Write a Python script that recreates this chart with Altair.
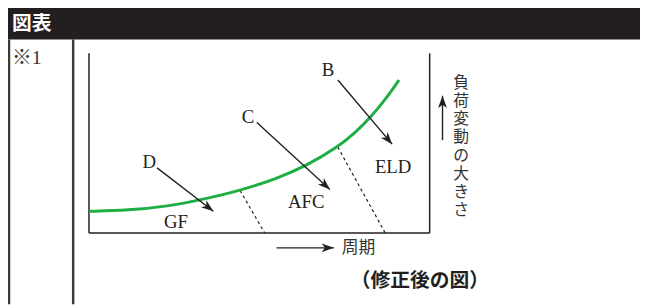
import altair as alt
import numpy as np
import pandas as pd

# ---- data (page pixel coordinates) ----
curve_x = [90, 130, 170, 205, 243, 280, 310, 342, 360, 375, 390, 404]
curve_y = [212, 211, 207, 200, 191, 179, 166, 147, 132, 117, 99, 79]

arrow_names = ["D", "C", "B", "up", "right"]
arrow_x0 = [159, 260, 342, 448, 280]
arrow_y0 = [168, 122, 79, 140, 249]
arrow_x1 = [216, 334, 397, 448, 338]
arrow_y1 = [212, 190, 144, 95, 249]

letter_text = ["D", "C", "B"]
letter_x = [151, 251, 332]
letter_y = [162, 117, 69]

region_text = ["GF", "AFC", "ELD"]
region_x = [178, 310, 398]
region_y = [223, 203, 167]

divider_x0 = [243, 342]
divider_y0 = [191, 147]
divider_x1 = [268, 390]
divider_y1 = [234, 234]

box_x0 = [90, 90, 435]
box_y0 = [52, 234, 52]
box_x1 = [90, 435, 435]
box_y1 = [234, 234, 234]

table_x = [9, 74]
table_y0 = [38, 38]
table_y1 = [306, 306]

header_x = [5, 648]
header_y = [4, 38]

vertical_label = "負荷変動の大きさ"
period_label = "周期"
caption = "（修正後の図）"
header_label = "図表"
note_label = "※1"

# ---- scales: page pixels, chart starts at the 8px page margin ----
W, H = 640, 298
xs = alt.Scale(domain=[8, 8 + W], nice=False, zero=False)
ys = alt.Scale(domain=[8, 8 + H], nice=False, zero=False, reverse=True)


def X(f):
    return alt.X(f"{f}:Q", scale=xs, axis=None)


def Y(f):
    return alt.Y(f"{f}:Q", scale=ys, axis=None)


INK = "#231f20"
SERIF = "Liberation Serif, 'Noto Sans CJK JP'"
SANS = "'Noto Sans CJK JP'"

# header bar
header_df = pd.DataFrame({"x0": [header_x[0]], "x1": [header_x[1]],
                          "y0": [header_y[0]], "y1": [header_y[1]]})
header = alt.Chart(header_df).mark_rect(color=INK).encode(
    x=X("x0"), x2="x1", y=Y("y0"), y2="y1")

header_txt = alt.Chart(pd.DataFrame({"x": [12], "y": [22], "t": [header_label]})).mark_text(
    align="left", baseline="middle", font=SANS, fontSize=20, fontWeight="bold", color="white"
).encode(x=X("x"), y=Y("y"), text="t:N")

# table lines
table_df = pd.DataFrame({"x": table_x, "y0": table_y0, "y1": table_y1})
table = alt.Chart(table_df).mark_rule(color="#3a3a3a", strokeWidth=2.5).encode(
    x=X("x"), y=Y("y0"), y2="y1")

note = alt.Chart(pd.DataFrame({"x": [12], "y": [57], "t": [note_label]})).mark_text(
    align="left", baseline="middle", font=SERIF, fontSize=20, color="#333333"
).encode(x=X("x"), y=Y("y"), text="t:N")

# plot box
box_df = pd.DataFrame({"x0": box_x0, "y0": box_y0, "x1": box_x1, "y1": box_y1})
box = alt.Chart(box_df).mark_rule(color=INK, strokeWidth=1.5).encode(
    x=X("x0"), y=Y("y0"), x2="x1", y2="y1")

# dashed dividers
div_df = pd.DataFrame({"x0": divider_x0, "y0": divider_y0, "x1": divider_x1, "y1": divider_y1})
dividers = alt.Chart(div_df).mark_rule(color=INK, strokeWidth=1.2, strokeDash=[3, 3]).encode(
    x=X("x0"), y=Y("y0"), x2="x1", y2="y1")

# green curve
curve_df = pd.DataFrame({"x": curve_x, "y": curve_y, "o": range(len(curve_x))})
curve = alt.Chart(curve_df).mark_line(color="#1fae43", strokeWidth=3, interpolate="basis").encode(
    x=X("x"), y=Y("y"), order="o:Q")

# arrows
arr_df = pd.DataFrame({"n": arrow_names, "x0": arrow_x0, "y0": arrow_y0,
                       "x1": arrow_x1, "y1": arrow_y1})
arr_df["ang"] = np.degrees(np.arctan2(arr_df["y1"] - arr_df["y0"],
                                      arr_df["x1"] - arr_df["x0"])) % 360
shafts = alt.Chart(arr_df).mark_rule(color=INK, strokeWidth=1.4).encode(
    x=X("x0"), y=Y("y0"), x2="x1", y2="y1")
heads = alt.Chart(arr_df).mark_point(
    shape="M0,0 L-1,-0.36 L-0.72,0 L-1,0.36 Z", filled=True, color=INK, opacity=1,
    size=620, strokeWidth=0
).encode(x=X("x1"), y=Y("y1"), angle=alt.Angle("ang:Q", scale=None))

# letters and region labels
let_df = pd.DataFrame({"x": letter_x + region_x, "y": letter_y + region_y,
                       "t": letter_text + region_text})
letters = alt.Chart(let_df).mark_text(
    align="center", baseline="middle", font="Liberation Serif", fontSize=19, color=INK
).encode(x=X("x"), y=Y("y"), text="t:N")

# vertical axis label: one character per line
vert = alt.Chart(pd.DataFrame({"x": [467], "y": [82], "t": ["\n".join(vertical_label)]})).mark_text(
    align="center", baseline="middle", font=SANS, fontSize=16, lineBreak="\n",
    lineHeight=18.4, color="#333333"
).encode(x=X("x"), y=Y("y"), text="t:N")

period = alt.Chart(pd.DataFrame({"x": [346], "y": [249], "t": [period_label]})).mark_text(
    align="left", baseline="middle", font=SANS, fontSize=17, color="#333333"
).encode(x=X("x"), y=Y("y"), text="t:N")

cap = alt.Chart(pd.DataFrame({"x": [425], "y": [283], "t": [caption]})).mark_text(
    align="center", baseline="middle", font=SANS, fontSize=20, fontWeight="bold", color=INK
).encode(x=X("x"), y=Y("y"), text="t:N")

chart = alt.layer(
    header, header_txt, table, note, box, dividers, curve, shafts, heads,
    letters, vert, period, cap
).properties(
    width=W, height=H, padding=0, background="white",
    autosize=alt.AutoSizeParams(type="none")
).configure_view(stroke=None)

chart.save("out.html", embed_options={"renderer": "svg", "actions": False})
